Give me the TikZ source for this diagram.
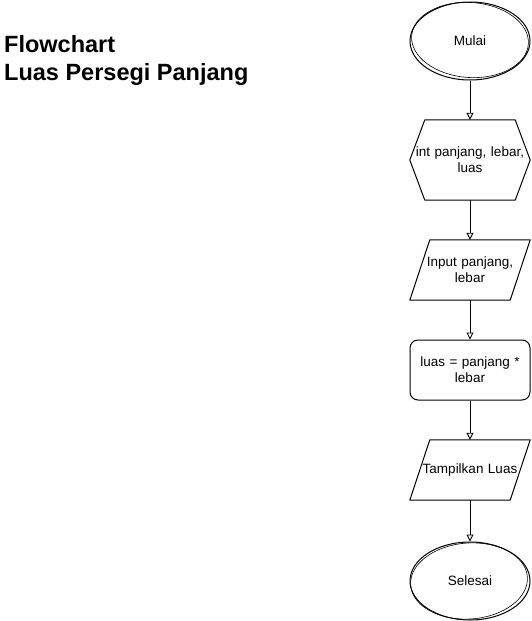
\documentclass[tikz,border=0pt]{standalone}
\usepackage{fontspec}
\setmainfont{Liberation Sans}
\usetikzlibrary{shapes.geometric,arrows.meta,calc}
\tikzset{
  lbl/.style={font=\fontsize{13.5}{16}\selectfont, align=center, text width=118pt, inner sep=0pt},
  term/.style={lbl, text width=50pt, draw, ellipse, minimum width=120pt, minimum height=78pt, line width=1pt},
  sketch/.style={draw, ellipse, line width=0.6pt, inner sep=0pt},
  box/.style={lbl, minimum width=120pt, minimum height=60pt},
  outline/.style={draw, line width=1pt, line join=round},
  flow/.style={draw, line width=0.9pt, -{Triangle[open, width=7pt, length=7pt]}}
}
\begin{document}
\begin{tikzpicture}[x=1pt,y=-1pt]
\useasboundingbox (0,0) rectangle (531,621);
\node[font=\bfseries\fontsize{23.5}{28}\selectfont, align=left, anchor=north west, inner sep=0pt] (title) at (4,35) {Flowchart\\Luas Persegi Panjang};

\node[term] (mulai) at (470,41) {Mulai};
\node[sketch, minimum width=117pt, minimum height=75pt, rotate=-4] (mulaisk) at (470,40) {};
\node[box, minimum height=80pt] (decl) at (470,160) {int panjang, lebar,\\luas};
\node[box] (input) at (470,270) {Input panjang,\\lebar};
\node[box, draw, rounded corners=8pt, line width=1pt] (proc) at (470,370) {luas = panjang *\\lebar};
\node[box] (out) at (470,470) {Tampilkan Luas};
\node[term, minimum height=78pt] (selesai) at (470,581) {Selesai};
\node[sketch, minimum width=117pt, minimum height=76pt, rotate=4] (selesaisk) at (469,581) {};

% hexagon
\path[outline] (decl.west) -- ($(decl.north west)+(15,0)$) -- ($(decl.north east)+(-15,0)$) -- (decl.east) -- ($(decl.south east)+(-15,0)$) -- ($(decl.south west)+(15,0)$) -- cycle;
% parallelograms
\path[outline] ($(input.north west)+(20,0)$) -- (input.north east) -- ($(input.south east)+(-20,0)$) -- (input.south west) -- cycle;
\path[outline] ($(out.north west)+(20,0)$) -- (out.north east) -- ($(out.south east)+(-20,0)$) -- (out.south west) -- cycle;

\path[flow] (mulai) -- (decl);
\path[flow] (decl) -- (input);
\path[flow] (input) -- (proc);
\path[flow] (proc) -- (out);
\path[flow] (out) -- (selesai);
\end{tikzpicture}
\end{document}
